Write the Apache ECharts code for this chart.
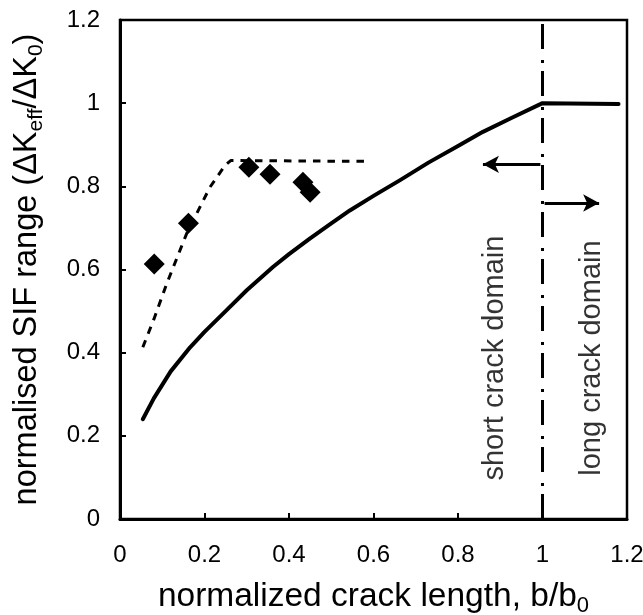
<!DOCTYPE html>
<html>
<head>
<meta charset="utf-8">
<script src="https://cdn.jsdelivr.net/npm/echarts@6/dist/echarts.min.js"></script>
<style>html,body{margin:0;padding:0;background:#fff;}#c{width:643px;height:615px;}</style>
</head>
<body>
<div id="c"></div>
<script>
// ---- data ----
const xTicks = [0, 0.2, 0.4, 0.6, 0.8, 1, 1.2];
const yTicks = [0, 0.2, 0.4, 0.6, 0.8, 1, 1.2];
const solidCurve = [[0.054,0.24],[0.08,0.29],[0.12,0.355],[0.166,0.413],[0.2,0.45],[0.25,0.5],[0.3,0.55],[0.362,0.606],[0.4,0.637],[0.45,0.675],[0.5,0.711],[0.544,0.742],[0.6,0.777],[0.663,0.815],[0.73,0.857],[0.8,0.897],[0.859,0.931],[0.93,0.966],[1.0,1.0],[1.18,0.998]];
const dashedCurve = [[0.054,0.413],[0.08,0.48],[0.111,0.567],[0.158,0.687],[0.213,0.798],[0.249,0.851],[0.262,0.862],[0.59,0.86]];
const diamonds = [[0.081,0.613],[0.162,0.711],[0.305,0.846],[0.355,0.829],[0.433,0.81],[0.45,0.786]];
const boundaryX = 1.0;
const arrowLeft = [[0.995,0.853],[0.859,0.853]];
const arrowRight = [[1.005,0.76],[1.134,0.76]];
const annotations = [
  {text:'short crack domain', at:[0.888,0.387]},
  {text:'long crack domain', at:[1.118,0.387]}
];

const FONT = 'Liberation Sans, Arial, sans-serif';
const chart = echarts.init(document.getElementById('c'), null, {renderer:'canvas'});
chart.setOption({
  animation:false,
  backgroundColor:'#fff',
  grid:{left:120, right:16, top:20, bottom:96, outerBoundsMode:'none', containLabel:false, show:true, borderColor:'#000', borderWidth:2.5, backgroundColor:'transparent'},
  xAxis:{
    type:'value', min:xTicks[0], max:xTicks[xTicks.length-1], interval:0.2,
    splitLine:{show:false},
    axisLine:{lineStyle:{color:'#000', width:3}},
    axisTick:{inside:true, length:6, lineStyle:{color:'#000', width:2}},
    axisLabel:{color:'#000', fontSize:24, fontFamily:FONT, margin:24, formatter:v=>String(+v.toFixed(1))},
    name:'{n|normalized crack length, b/b}{s|0}',
    nameLocation:'middle', nameGap:58,
    nameTextStyle:{rich:{
      n:{fontSize:33.5, fontFamily:FONT, color:'#000', lineHeight:40, verticalAlign:'middle'},
      s:{fontSize:22, fontFamily:FONT, color:'#000', lineHeight:40, verticalAlign:'bottom'}
    }}
  },
  yAxis:{
    type:'value', min:yTicks[0], max:yTicks[yTicks.length-1], interval:0.2,
    splitLine:{show:false},
    axisLine:{lineStyle:{color:'#000', width:3}},
    axisTick:{inside:true, length:6, lineStyle:{color:'#000', width:2}},
    axisLabel:{color:'#000', fontSize:24, fontFamily:FONT, margin:20, formatter:v=>String(+v.toFixed(1))},
    name:'{n|normalised SIF range (ΔK}{s|eff}{n|/ΔK}{s|0}{n|)}',
    nameLocation:'middle', nameGap:73, nameRotate:90,
    nameTextStyle:{rich:{
      n:{fontSize:32.5, fontFamily:FONT, color:'#000', lineHeight:40, verticalAlign:'middle'},
      s:{fontSize:21, fontFamily:FONT, color:'#000', lineHeight:40, verticalAlign:'bottom'}
    }}
  },
  series:[
    {type:'line', data:solidCurve, showSymbol:false, symbol:'none', lineStyle:{color:'#000', width:4, join:'round', cap:'round'}, z:3},
    {type:'line', data:dashedCurve, showSymbol:false, symbol:'none', lineStyle:{color:'#000', width:3, type:[7.5,7]}, z:3},
    {type:'scatter', data:diamonds, symbol:'diamond', symbolSize:21, itemStyle:{color:'#000', opacity:1}, z:4},
    {type:'line', data:[], symbol:'none',
      markLine:{silent:true, symbol:'none', label:{show:false},
        lineStyle:{color:'#000', width:3, type:[25,8,3,11]},
        data:[{xAxis:boundaryX}]}},
    {type:'line', data:[], symbol:'none',
      markLine:{silent:true, symbol:['none','arrow'], symbolSize:[13,16], label:{show:false},
        lineStyle:{color:'#000', width:3, type:'solid'},
        data:[
          [{coord:arrowLeft[0]},{coord:arrowLeft[1]}],
          [{coord:arrowRight[0]},{coord:arrowRight[1]}]
        ]}},
    {type:'scatter', symbolSize:0, silent:true,
      data:annotations.map(a=>({value:a.at, name:a.text})),
      label:{show:true, position:'inside', rotate:90, formatter:p=>p.name, color:'#000', fontSize:29, fontFamily:FONT}}
  ]
});
</script>
</body>
</html>
